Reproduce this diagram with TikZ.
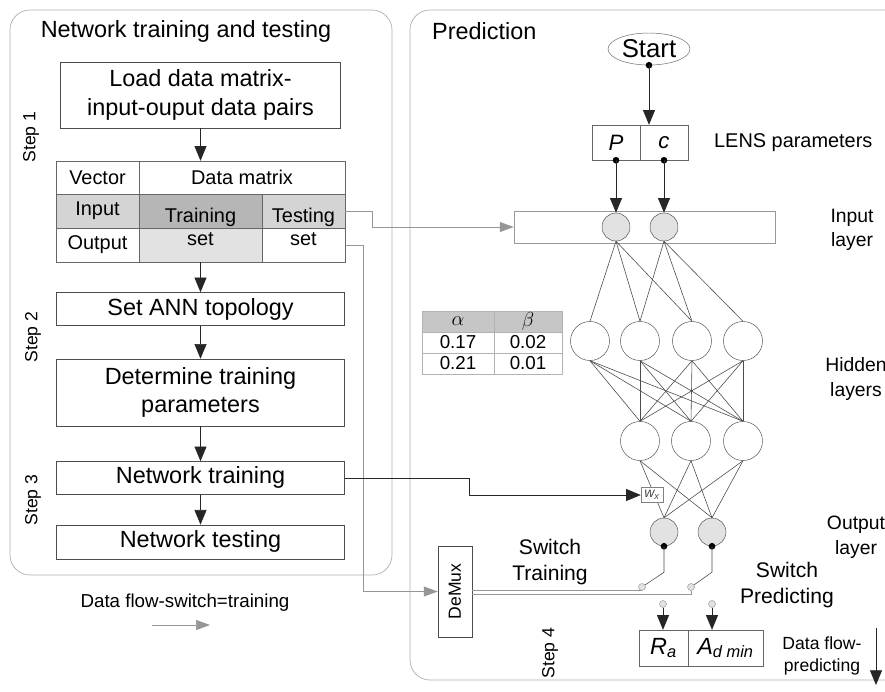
\documentclass[tikz,border=0pt]{standalone}
\usepackage{fontspec}
\setmainfont{Liberation Sans}
\usepackage{graphicx}
\usetikzlibrary{positioning, arrows.meta, shapes.geometric, calc}

\definecolor{linegray}{RGB}{150,150,150}
\definecolor{panelgray}{RGB}{175,175,175}
\definecolor{cellgray}{RGB}{212,212,212}
\definecolor{traingray}{RGB}{182,182,182}
\definecolor{setgray}{RGB}{226,226,226}
\definecolor{nodegray}{RGB}{226,226,226}

\begin{document}
\begin{tikzpicture}[x=0.03cm, y=-0.03cm,
  panel/.style={draw=panelgray, line width=0.6pt, rounded corners=0.6cm},
  title/.style={font=\fontsize{20}{24}\selectfont},
  stepbox/.style={draw=black!70, rectangle, minimum width=8.64cm, align=center, font=\fontsize{20}{24.5}\selectfont},
  cell/.style={draw=black!60, rectangle, inner sep=0pt, font=\fontsize{17}{20}\selectfont},
  celltxt/.style={inner sep=0pt, font=\fontsize{17}{20}\selectfont},
  steplbl/.style={rotate=90, font=\fontsize{15}{18}\selectfont},
  lbl/.style={align=center, font=\fontsize{17}{21}\selectfont},
  neuron/.style={draw=black!70, circle, minimum size=1.17cm, inner sep=0pt},
  ioneuron/.style={neuron, fill=nodegray, minimum size=0.84cm},
  dot/.style={circle, fill=black, inner sep=0pt, minimum size=0.2cm},
  contact/.style={circle, draw=linegray, fill=nodegray, inner sep=0pt, minimum size=0.21cm},
  link/.style={black!70, line width=0.5pt},
  arrow/.style={-{Triangle[length=0.44cm, width=0.36cm]}, black!85, line width=0.6pt},
  garrow/.style={-{Triangle[length=0.42cm, width=0.3cm]}, linegray, line width=0.6pt},
  gline/.style={linegray, line width=0.6pt},
  abcell/.style={draw=black!30, rectangle, minimum height=0.63cm, inner sep=0pt, font=\fontsize{16}{18}\selectfont}
]
  \useasboundingbox (0,0) rectangle (885,691);
  \clip (0,0) rectangle (885,691);

  % panels
  \draw[panel] (10,10) rectangle (392,575);
  \draw[panel] (410,10) rectangle (930,680);
  \node[title] (ttrain) at (186,31) {Network training and testing};
  \node[title, anchor=west] (tpred) at (428,31) {Prediction};

  % left column
  \node[stepbox, minimum width=8.4cm, minimum height=1.98cm] (load) at (200.5,95) {Load data matrix-\\input-ouput data pairs};

  \node[cell, minimum width=2.49cm, minimum height=0.99cm] (vec) at (97.5,177.5) {Vector};
  \node[cell, minimum width=6.18cm, minimum height=0.99cm] (dm) at (242,177.5) {Data matrix};
  \node[cell, fill=cellgray, minimum width=2.49cm, minimum height=1.02cm] (inp) at (97.5,211) {Input};
  \node[cell, fill=traingray, minimum width=3.69cm, minimum height=1.02cm] (trin) at (200.5,211) {};
  \node[cell, fill=cellgray, minimum width=2.49cm, minimum height=1.02cm] (tsin) at (303.5,211) {};
  \node[cell, minimum width=2.49cm, minimum height=1.02cm] (outp) at (97.5,245) {Output};
  \node[cell, fill=setgray, minimum width=3.69cm, minimum height=1.02cm] (trout) at (200.5,245) {};
  \node[cell, minimum width=2.49cm, minimum height=1.02cm] (tsout) at (303.5,245) {};
  \node[celltxt] (trtxt) at (200.5,217) {Training};
  \node[celltxt] (trset) at (200.5,239) {set};
  \node[celltxt] (tstxt) at (303.5,217) {Testing};
  \node[celltxt] (tsset) at (303.5,239) {set};

  \node[stepbox, minimum height=0.99cm, below=0.9cm of trout] (topo) {Set ANN topology};
  \node[stepbox, minimum height=2.01cm, below=0.99cm of topo] (params) {Determine training\\parameters};
  \node[stepbox, minimum height=0.99cm, below=1.05cm of params] (train) {Network training};
  \node[stepbox, minimum height=1.02cm, below=0.9cm of train] (test) {Network testing};

  \node[steplbl] (s1) at (31,137) {Step 1};
  \node[steplbl] (s2) at (33,337) {Step 2};
  \node[steplbl] (s3) at (33,500) {Step 3};

  \draw[arrow] (load) -- (trin |- dm.north);
  \draw[arrow] (trout) -- (topo);
  \draw[arrow] (topo) -- (params);
  \draw[arrow] (params) -- (train);
  \draw[arrow] (train) -- (test);

  % legend
  \node[font=\fontsize{16}{19}\selectfont] (lgtxt) at (185,603) {Data flow-switch=training};
  \coordinate (lgs) at (152,625);
  \coordinate (lge) at (210,625);
  \draw[garrow] (lgs) -- (lge);

  % prediction side
  \node[draw=black!60, ellipse, minimum width=2.46cm, minimum height=0.96cm, inner sep=0pt, font=\fontsize{22}{24}\selectfont] (start) at (649,49) {Start};
  \node[cell, minimum width=1.44cm, minimum height=1.05cm, font=\fontsize{19}{22}\selectfont\itshape] (lensP) at (616,142.5) {P};
  \node[cell, minimum width=1.44cm, minimum height=1.05cm, font=\fontsize{19}{22}\selectfont\itshape] (lensc) at (664,142.5) {c};
  \node[lbl, anchor=west] (lenstxt) at (710,142.5) {LENS parameters};

  \node[draw=black!40, minimum width=7.83cm, minimum height=0.96cm] (inlayer) at (644.5,227) {};
  \node[ioneuron] (i1) at (616,227) {};
  \node[ioneuron] (i2) at (664,227) {};

  \node[neuron] (h1) at (590,341) {};
  \node[neuron] (h2) at (640,341) {};
  \node[neuron] (h3) at (692,341) {};
  \node[neuron] (h4) at (743,341) {};

  \node[neuron] (g1) at (640,441) {};
  \node[neuron] (g2) at (691,441) {};
  \node[neuron] (g3) at (743,441) {};

  \node[ioneuron] (o1) at (664,532) {};
  \node[ioneuron] (o2) at (712,532) {};

  \node[lbl, font=\fontsize{16.5}{21}\selectfont] (inlbl) at (852,230) {Input\\layer};
  \node[lbl, font=\fontsize{16.5}{21}\selectfont] (hdlbl) at (856,379) {Hidden\\layers};
  \node[lbl, font=\fontsize{16.5}{21}\selectfont] (oulbl) at (856,537) {Output\\layer};

  \foreach \h in {h1,h2,h3} \draw[link] (i1.south) -- (\h.north);
  \foreach \h in {h2,h3,h4} \draw[link] (i2.south) -- (\h.north);
  \foreach \h in {h1,h2,h3,h4}
    \foreach \g in {g1,g2,g3} \draw[link] (\h.south) -- (\g.north);
  \foreach \g in {g1,g2,g3}
    \foreach \o in {o1,o2} \draw[link] (\g.south) -- (\o.north);

  \node[draw=black!50, fill=white, minimum width=0.66cm, minimum height=0.45cm, inner sep=0pt, text=black!70, font=\fontsize{12}{14}\selectfont\itshape] (wx) at (652,495) {w\textsubscript{x}};

  % Start and LENS arrows
  \node[dot] (sd) at (start.south) {};
  \draw[arrow] (sd.center) -- (sd.center |- lensc.north);
  \node[dot] (pd) at (lensP.south) {};
  \node[dot] (cd) at (lensc.south) {};
  \draw[arrow] (pd.center) -- (i1.north);
  \draw[arrow] (cd.center) -- (i2.north);

  % alpha beta table
  \node[abcell, fill=gray!45, minimum width=2.16cm] (ah) at (458,321.5) {$\alpha$};
  \node[abcell, fill=gray!45, minimum width=2.04cm] (bh) at (528,321.5) {$\beta$};
  \node[abcell, minimum width=2.16cm] (a1) at (458,342.5) {0.17};
  \node[abcell, minimum width=2.04cm] (b1) at (528,342.5) {0.02};
  \node[abcell, minimum width=2.16cm] (a2) at (458,363.5) {0.21};
  \node[abcell, minimum width=2.04cm] (b2) at (528,363.5) {0.01};

  % switches
  \node[dot] (od1) at (o1.south) {};
  \node[dot] (od2) at (o2.south) {};
  \node[contact] (sw1) at (642,587) {};
  \node[contact] (sw2) at (691,587) {};
  \node[contact] (pc1) at (663,604) {};
  \node[contact] (pc2) at (712,604) {};
  \draw[link] (od1.center) -- ++(0,26) -- (sw1);
  \draw[link] (od2.center) -- ++(0,26) -- (sw2);

  \node[draw=black!70, minimum width=1.02cm, minimum height=2.73cm, inner sep=0pt, font=\fontsize{15}{18}\selectfont] (demux) at (455,591.5) {\rotatebox{90}{DeMux}};
  \draw[gline] (sw1.south -| demux.east) -- (sw1.south);
  \draw[gline] ([yshift=-0.09cm]demux.east) -| (sw2.south);

  \node[lbl, font=\fontsize{18}{22}\selectfont] (swtr) at (550,562) {Switch\\Training};
  \node[lbl, font=\fontsize{18}{22}\selectfont] (swpr) at (787,585) {Switch\\Predicting};

  \node[cell, minimum width=1.47cm, minimum height=1.08cm, font=\fontsize{20}{22}\selectfont\itshape] (ra) at (663.5,648) {R\textsubscript{a}};
  \node[cell, minimum width=2.25cm, minimum height=1.08cm, font=\fontsize{20}{22}\selectfont\itshape] (ad) at (725.5,648) {A\textsubscript{d min}};
  \draw[arrow] (pc1) -- (pc1 |- ra.north);
  \draw[arrow] (pc2) -- (pc2 |- ad.north);

  \node[steplbl] (s4) at (550,653) {Step 4};
  \node[lbl, font=\fontsize{15}{19}\selectfont] (dfp) at (822,656) {Data flow-\\predicting};
  \coordinate (dfs) at (876,628);
  \coordinate (dfe) at (876,685);
  \draw[arrow] (dfs) -- (dfe);

  % data flow connectors
  \draw[garrow] (tsin.east) -- ++(27,0) |- (inlayer.west);
  \draw[garrow] (tsout.east) -- ++(18,0) |- (demux.west);
  \draw[arrow] (train.east) -- ++(125,0) |- (wx.west);
\end{tikzpicture}
\end{document}
